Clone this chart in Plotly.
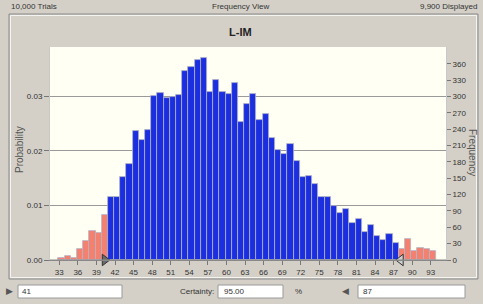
import numpy as np
import plotly.graph_objects as go

# ---- data ----
freq = [3, 8, 4, 20, 34, 53, 49, 83,
        115, 115, 152, 176, 237, 220, 239,
        300, 307, 298, 299, 303, 347, 354, 367, 370, 308, 330, 308, 304, 325,
        254,
        286, 305, 257, 267, 224, 201, 194, 212, 182, 152, 155, 139, 116, 116, 100,
        87, 93, 68, 76, 52, 65, 44, 37, 48, 31,
        21, 39, 17, 22, 21, 17]
bin_start = 32.85
bin_width = 1.0
trials = 10000
lower_cert = 41
upper_cert = 87
certainty = "95.00"
x_ticks = list(range(33, 94, 3))
prob_ticks = [0.0, 0.01, 0.02, 0.03]
prob_labels = ["0.00", "0.01", "0.02", "0.03"]
freq_ticks = list(range(0, 361, 30))

W, H = 483, 304
L, R, T, B = 50, 446, 47, 260

centers = bin_start + bin_width * (np.arange(len(freq)) + 0.5)
lo_edges = centers - bin_width / 2
hi_edges = centers + bin_width / 2
BLUE = "#1b2fe0"
RED = "#f4806f"
colors = [BLUE if (hi > lower_cert and lo <= upper_cert) else RED
          for lo, hi in zip(lo_edges, hi_edges)]

ymax_f = 390.8

def px(x):
    return (x - L) / (R - L)

def py(y):
    return (B - y) / (B - T)

fig = go.Figure()
fig.add_trace(go.Bar(x=centers, y=freq, width=bin_width, marker=dict(color=colors,
              line=dict(color="#b4b4c4", width=0.8)), yaxis="y2", showlegend=False,
              hoverinfo="skip"))
# dummy trace on probability axis
fig.add_trace(go.Scatter(x=[centers[0]], y=[0], mode="markers", marker=dict(opacity=0),
                         showlegend=False, hoverinfo="skip"))
# certainty grabbers
fig.add_trace(go.Scatter(x=[lower_cert - 0.65], y=[0], mode="markers", yaxis="y2",
                         marker=dict(symbol="triangle-right", size=10, color="#6a6a6a",
                                     line=dict(color="#333", width=1)),
                         cliponaxis=False, showlegend=False, hoverinfo="skip"))
fig.add_trace(go.Scatter(x=[upper_cert + 1.15], y=[0], mode="markers", yaxis="y2",
                         marker=dict(symbol="triangle-left", size=10, color="#d0d0d0",
                                     line=dict(color="#333", width=1)),
                         cliponaxis=False, showlegend=False, hoverinfo="skip"))

tickfont = dict(family="Liberation Sans, Arial", size=8, color="#333")
fig.update_layout(
    width=W, height=H,
    margin=dict(l=L, r=W - R, t=T, b=H - B),
    paper_bgcolor="#d4d0c8",
    plot_bgcolor="#fffff4",
    bargap=0,
    xaxis=dict(range=[31.5, 95.47], tickvals=x_ticks, ticks="outside", ticklen=4,
               tickcolor="#777", tickfont=tickfont, showgrid=False, zeroline=False,
               showline=True, linecolor="#888", linewidth=1, fixedrange=True),
    yaxis=dict(range=[0, ymax_f / trials], tickvals=prob_ticks, ticktext=prob_labels,
               ticks="outside", ticklen=5, tickcolor="#777", tickfont=tickfont,
               showgrid=True, gridcolor="#9a9a9a", gridwidth=1, zeroline=False,
               showline=True, linecolor="#c8c8c8"),
    yaxis2=dict(range=[0, ymax_f], overlaying="y", side="right", tickvals=freq_ticks,
                ticks="outside", ticklen=4, tickcolor="#777", tickfont=tickfont,
                showgrid=False, zeroline=False, showline=True, linecolor="#c8c8c8"),
    font=dict(family="Liberation Sans, Arial", color="#333"),
)

shapes = []
# panel frame (inset)
shapes.append(dict(type="rect", xref="paper", yref="paper", x0=px(9), x1=px(478),
                   y0=py(279), y1=py(14), line=dict(color="#8a8a8a", width=1)))
shapes.append(dict(type="rect", xref="paper", yref="paper", x0=px(10.5), x1=px(476.5),
                   y0=py(277.5), y1=py(15.5), line=dict(color="#f4f4f0", width=1)))
# baseline
shapes.append(dict(type="line", xref="paper", yref="paper", x0=0, x1=1, y0=0, y1=0,
                   line=dict(color="#888", width=1)))
# text boxes bottom
for x0, x1 in [(18, 122), (218, 283), (358, 465)]:
    shapes.append(dict(type="rect", xref="paper", yref="paper", x0=px(x0), x1=px(x1),
                       y0=py(298), y1=py(285), fillcolor="white",
                       line=dict(color="#9a9a9a", width=1)))
fig.update_layout(shapes=shapes)

small = dict(family="Liberation Sans, Arial", size=8, color="#333")
ann = []
def add_text(text, x, y, xanchor="left", font=small, angle=0):
    ann.append(dict(text=text, x=px(x), y=py(y), xref="paper", yref="paper",
                    xanchor=xanchor, yanchor="middle", showarrow=False, font=font,
                    textangle=angle))

add_text("10,000 Trials", 9, 7)
add_text("Frequency View", 240, 7, "center")
add_text("9,900 Displayed", 479, 7, "right")
add_text("<b>L-IM</b>", 240, 32, "center",
         dict(family="Liberation Sans, Arial", size=11, color="#222"))
add_text("Probability", 19, 150, "center",
         dict(family="Liberation Sans, Arial", size=10, color="#555"), -90)
add_text("Frequency", 473, 152, "center",
         dict(family="Liberation Sans, Arial", size=10, color="#555"), 90)
add_text("▶", 4, 291, "left", dict(family="DejaVu Sans", size=9, color="#555"))
add_text(str(lower_cert), 20, 291)
add_text("Certainty:", 216, 291, "right")
add_text(certainty, 222, 291)
add_text("%", 293, 291)
add_text("◀", 340, 291, "left", dict(family="DejaVu Sans", size=9, color="#555"))
add_text(str(upper_cert), 361, 291)
fig.update_layout(annotations=ann)

fig.write_html("out.html", post_script="document.body.style.margin='0';",
               config={"displayModeBar": False})
